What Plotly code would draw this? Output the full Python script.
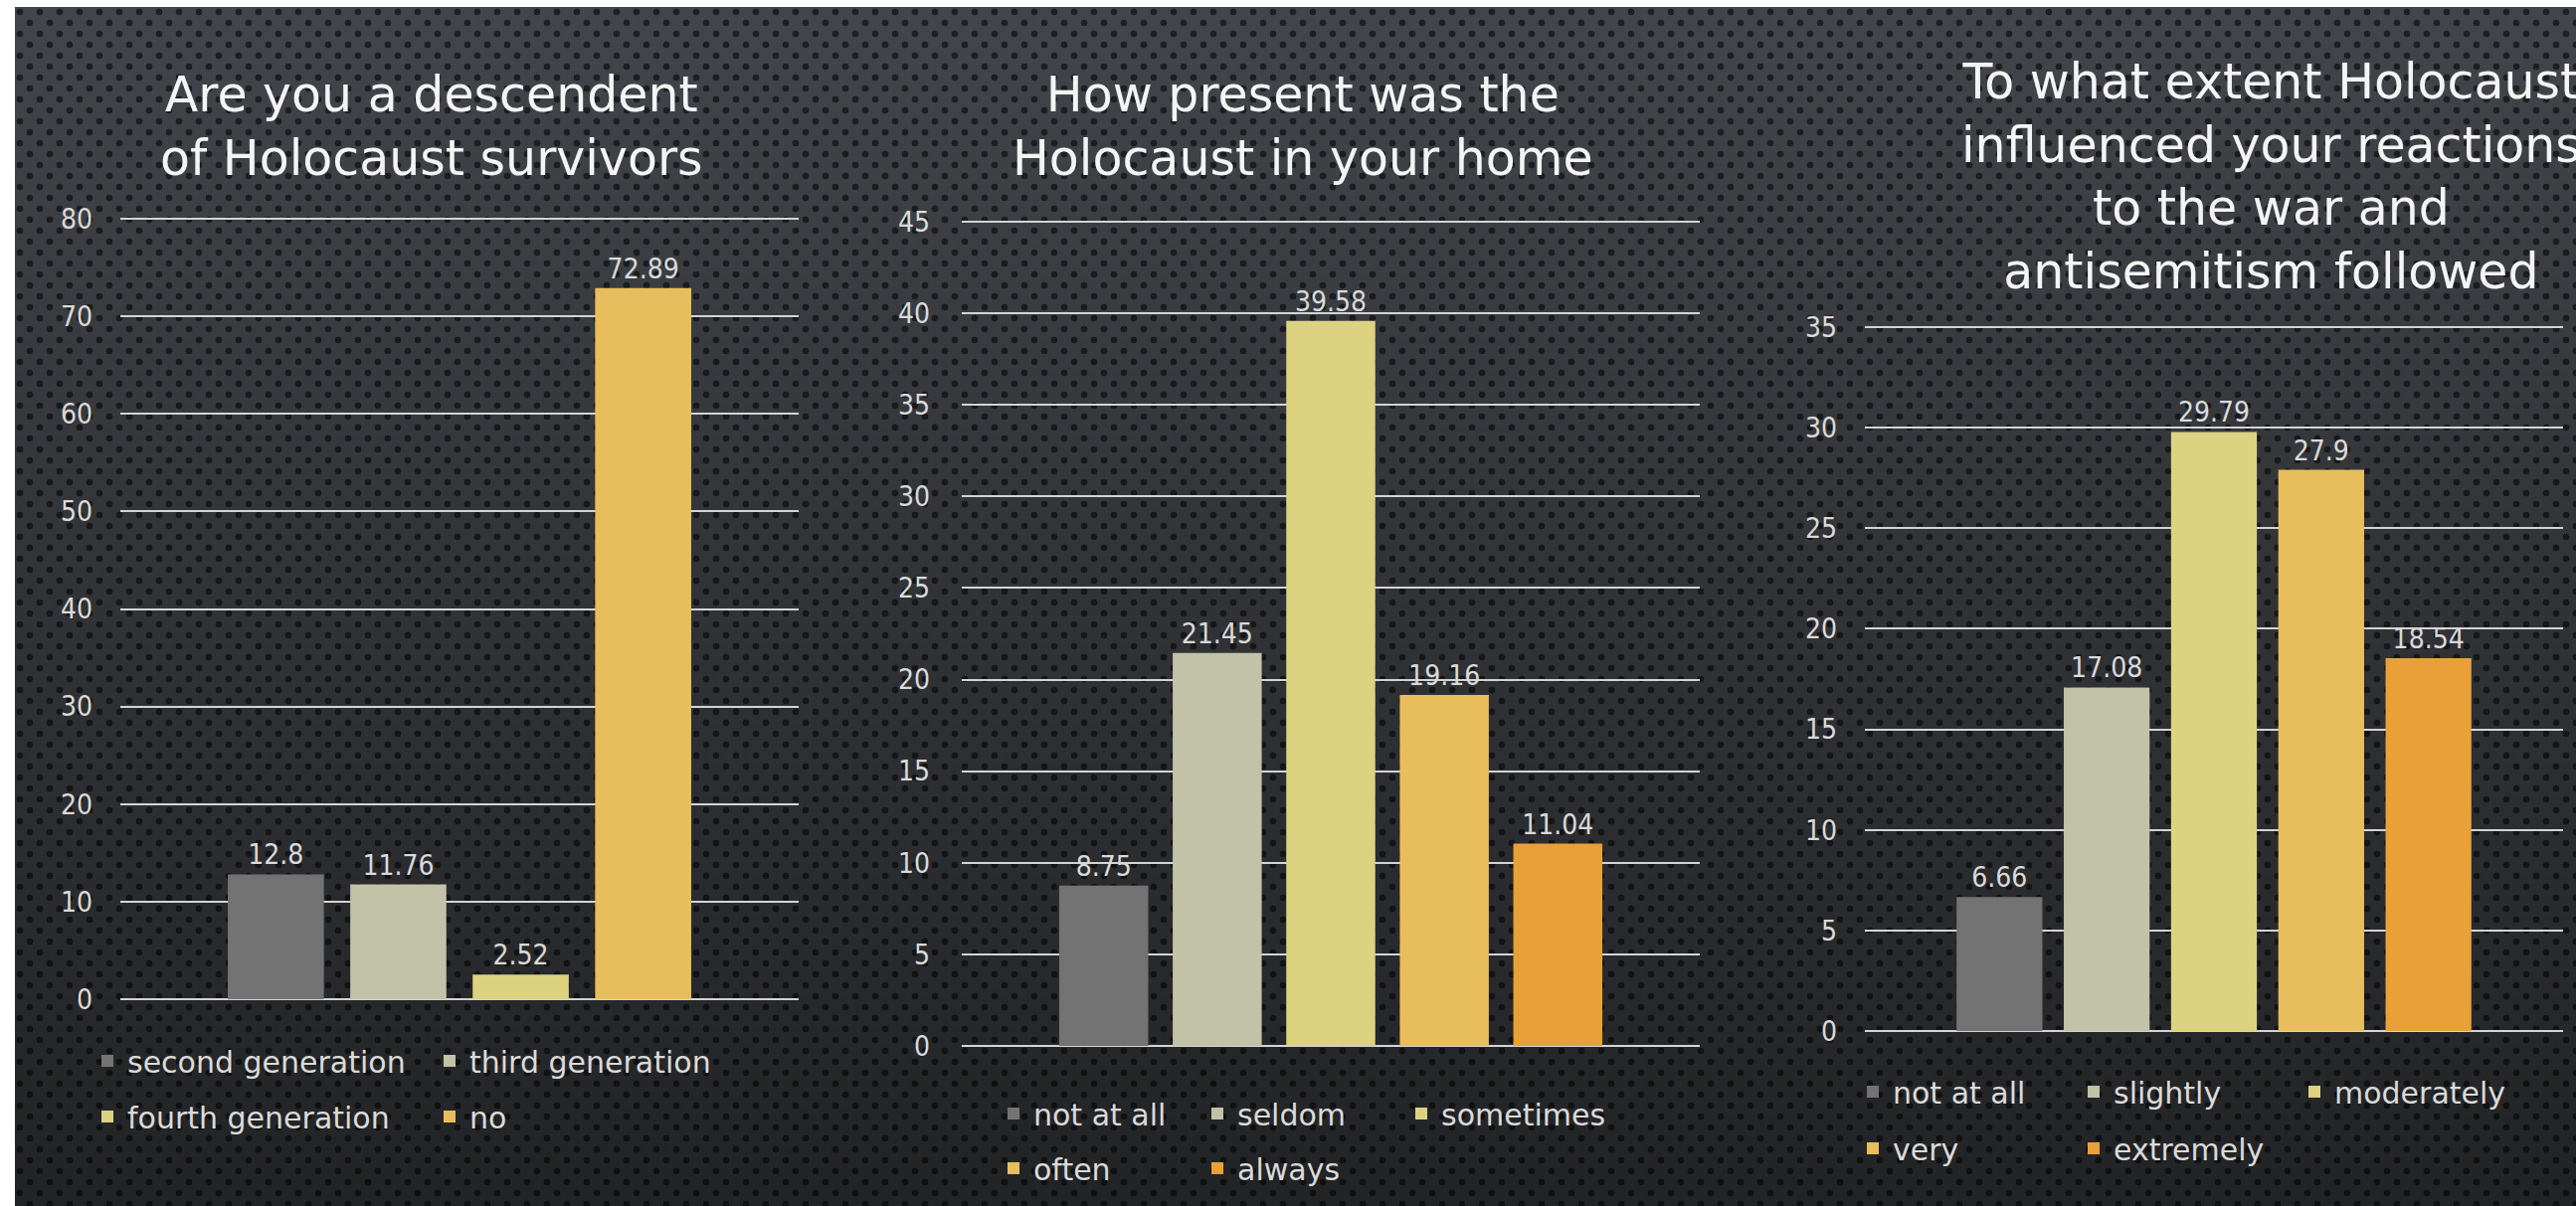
import base64
import plotly.graph_objects as go

W, H = 2590, 1213

# --- survey results (percent of respondents) ---
descent_labels = ["second generation", "third generation", "fourth generation", "no"]
descent_values = [12.8, 11.76, 2.52, 72.89]

presence_labels = ["not at all", "seldom", "sometimes", "often", "always"]
presence_values = [8.75, 21.45, 39.58, 19.16, 11.04]

influence_labels = ["not at all", "slightly", "moderately", "very", "extremely"]
influence_values = [6.66, 17.08, 29.79, 27.9, 18.54]

titles = [
    "Are you a descendent<br>of Holocaust survivors",
    "How present was the<br>Holocaust in your home",
    "To what extent Holocaust<br>influenced your reactions<br>to the war and<br>antisemitism followed",
]

palette = ["#737373", "#c2c2a8", "#dcd280", "#e8be5c", "#e9a038"]

TITLE_FONT = "DejaVu Sans, Noto Sans, sans-serif"
NUM_FONT = "Liberation Sans Narrow, DejaVu Sans Condensed, Liberation Sans, sans-serif"
TEXT_COLOR = "#dadada"
GRID_COLOR = "#d4d4d4"

# panel geometry in pixels: plot box (left, top, right, bottom)
panels = [
    dict(labels=descent_labels, values=descent_values, box=(121, 220, 803, 1005),
         ymax=80, dtick=10, xr=[-1.27, 4.27], bw=0.785, standoff=27,
         title_xy=(434, 127),
         rows=[([0, 1], 88, 1067), ([2, 3], 88, 1123)], entry=299),
    dict(labels=presence_labels, values=presence_values, box=(967, 223, 1709, 1052),
         ymax=45, dtick=5, xr=[-1.25, 5.25], bw=0.784, standoff=31,
         title_xy=(1310, 127),
         rows=[([0, 1, 2], 999, 1120), ([3, 4], 999, 1175)], entry=160),
    dict(labels=influence_labels, values=influence_values, box=(1875, 329, 2577, 1037),
         ymax=35, dtick=5, xr=[-1.255, 5.255], bw=0.8, standoff=27,
         title_xy=(2283, 178),
         rows=[([0, 1, 2], 1863, 1098), ([3, 4], 1863, 1155)], entry=177),
]


def px_x(x):
    return x / W


def px_y(y):
    return 1 - y / H


# perforated dark backdrop as an inline SVG image
bg_x0, bg_y0 = 15, 7
bw_px, bh_px = W - bg_x0, H - bg_y0
svg = f'''<svg xmlns="http://www.w3.org/2000/svg" width="{bw_px}" height="{bh_px}" viewBox="0 0 {bw_px} {bh_px}" preserveAspectRatio="none">
<defs>
<linearGradient id="g" x1="0" y1="0" x2="0" y2="1">
<stop offset="0" stop-color="#42454b"/>
<stop offset="0.45" stop-color="#323438"/>
<stop offset="1" stop-color="#222325"/>
</linearGradient>
<pattern id="p" width="20" height="22" patternUnits="userSpaceOnUse">
<circle cx="5" cy="5" r="3.3" fill="#000" fill-opacity="0.55"/>
<circle cx="15" cy="16" r="3.3" fill="#000" fill-opacity="0.55"/>
</pattern>
</defs>
<rect width="100%" height="100%" fill="url(#g)"/>
<rect width="100%" height="100%" fill="url(#p)"/>
</svg>'''
bg_uri = "data:image/svg+xml;base64," + base64.b64encode(svg.encode()).decode()

fig = go.Figure()
layout = dict(
    width=W, height=H,
    margin=dict(l=0, r=0, t=0, b=0, autoexpand=False),
    paper_bgcolor="#ffffff",
    plot_bgcolor="rgba(0,0,0,0)",
    barmode="overlay",
    showlegend=True,
    annotations=[],
    images=[dict(source=bg_uri, xref="paper", yref="paper",
                 x=px_x(bg_x0), y=px_y(bg_y0), sizex=bw_px / W, sizey=bh_px / H,
                 xanchor="left", yanchor="top", sizing="stretch", layer="below")],
)

legend_no = 0
for i, p in enumerate(panels):
    ax = "" if i == 0 else str(i + 1)
    left, top, right, bottom = p["box"]

    # one legend per legend row
    row_of = {}
    for idxs, lx, ly in p["rows"]:
        legend_no += 1
        lname = "legend" if legend_no == 1 else f"legend{legend_no}"
        for k in idxs:
            row_of[k] = lname
        layout[lname] = dict(
            orientation="h", x=px_x(lx), y=px_y(ly), xanchor="left", yanchor="middle",
            bgcolor="rgba(0,0,0,0)", borderwidth=0, entrywidth=p["entry"],
            font=dict(family=TITLE_FONT, size=30, color=TEXT_COLOR),
            traceorder="normal", itemclick=False, itemdoubleclick=False,
        )

    for k, (lab, val) in enumerate(zip(p["labels"], p["values"])):
        fig.add_trace(go.Bar(
            x=[lab], y=[val], name=lab, width=p["bw"],
            marker=dict(color=palette[k], line=dict(width=0)),
            text=[f"{val:g}"], textposition="outside", cliponaxis=False,
            textfont=dict(family=NUM_FONT, size=28, color=TEXT_COLOR),
            xaxis="x" + ax, yaxis="y" + ax, legend=row_of[k],
            hoverinfo="skip",
        ))

    layout["xaxis" + ax] = dict(
        domain=[px_x(left), px_x(right)], anchor="y" + ax,
        type="category", categoryorder="array", categoryarray=p["labels"],
        range=p["xr"], showticklabels=False, showgrid=False, zeroline=False,
        showline=False, ticks="", fixedrange=True, automargin=False,
    )
    # a hair of headroom so the top gridline is still drawn
    ymax = p["ymax"] * 1.0015
    top_adj = bottom - (bottom - top) * 1.0015
    layout["yaxis" + ax] = dict(
        domain=[px_y(bottom), px_y(top_adj)], anchor="x" + ax,
        range=[0, ymax], dtick=p["dtick"], tick0=0,
        showgrid=True, gridcolor=GRID_COLOR, gridwidth=2,
        zeroline=True, zerolinecolor=GRID_COLOR, zerolinewidth=2,
        showline=False, ticks="", ticklabelstandoff=p["standoff"],
        tickfont=dict(family=NUM_FONT, size=28, color=TEXT_COLOR),
        fixedrange=True, automargin=False,
    )
    tx, ty = p["title_xy"]
    layout["annotations"].append(dict(
        text=titles[i], xref="paper", yref="paper", x=px_x(tx), y=px_y(ty),
        xanchor="center", yanchor="middle", showarrow=False, align="center",
        font=dict(family=TITLE_FONT, size=49, color="#f4f4f4"),
    ))

fig.update_layout(**layout)
fig.write_html("out.html", config={"displayModeBar": False})
